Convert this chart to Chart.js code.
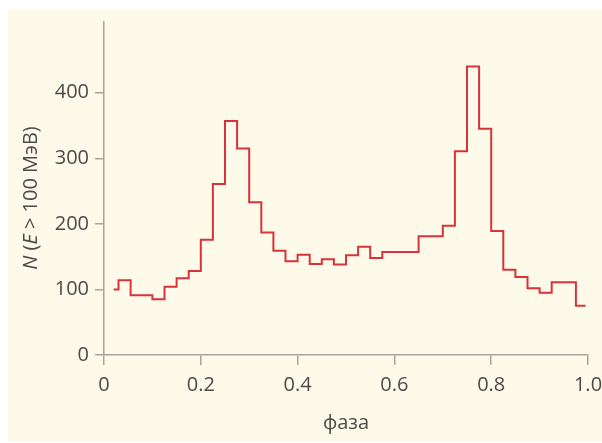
<!DOCTYPE html>
<html lang="ru">
<head>
<meta charset="UTF-8">
<title>N(E > 100 МэВ) vs фаза</title>
<script src="https://cdn.jsdelivr.net/npm/chart.js"></script>
<style>
    html, body {
        margin: 0;
        padding: 0;
        background: #ffffff;
    }
    #wrap {
        width: 602px;
        height: 443px;
    }
</style>
</head>
<body>
<div id="wrap"><canvas id="pulseChart" width="602" height="443"></canvas></div>
<script>
// phase bin starts (last value = end of last bin)
var phaseEdges = [0.02, 0.03, 0.055, 0.08, 0.10, 0.125, 0.15, 0.175, 0.20, 0.225,
    0.25, 0.275, 0.30, 0.325, 0.35, 0.375, 0.40, 0.425, 0.45, 0.475,
    0.50, 0.525, 0.55, 0.575, 0.60, 0.625, 0.65, 0.675, 0.70, 0.725,
    0.75, 0.775, 0.80, 0.825, 0.85, 0.875, 0.90, 0.925, 0.95, 0.975, 0.995];
// counts per bin, N(E > 100 MeV)
var counts = [100, 114, 91, 91, 85, 104, 117, 128, 176, 261,
    357, 315, 233, 187, 159, 143, 153, 139, 146, 138,
    152, 165, 148, 157, 157, 157, 181, 181, 197, 311,
    440, 345, 189, 130, 119, 102, 95, 111, 111, 75];
var yTicks = [0, 100, 200, 300, 400];
var xTicks = [0, 0.2, 0.4, 0.6, 0.8, 1.0];

var axisColor = '#a6a59c';
var textColor = '#4a4a4a';
var fontFamily = "'Open Sans', sans-serif";

// each point opens a bin; the extra last point closes the final bin
var points = phaseEdges.map(function (x, i) {
    return { x: x, y: counts[Math.min(i, counts.length - 1)] };
});

// cream panel behind the plot
var panelPlugin = {
    id: 'panel',
    beforeDraw: function (chart) {
        var ctx = chart.ctx;
        ctx.save();
        ctx.fillStyle = '#fefae9';
        ctx.fillRect(8, 10, 594, 432);
        ctx.restore();
    }
};

// y title with italic N and E
var yTitlePlugin = {
    id: 'yTitle',
    afterDraw: function (chart) {
        var ctx = chart.ctx;
        var parts = [
            { t: 'N', it: true },
            { t: ' (', it: false },
            { t: 'E', it: true },
            { t: ' > 100 МэВ)', it: false }
        ];
        var size = 20;
        var total = 0;
        parts.forEach(function (p) {
            ctx.font = (p.it ? 'italic ' : '') + size + 'px ' + fontFamily;
            p.w = ctx.measureText(p.t).width;
            total += p.w;
        });
        var cy = 198;
        ctx.save();
        ctx.translate(31, cy);
        ctx.rotate(-Math.PI / 2);
        ctx.fillStyle = textColor;
        ctx.textBaseline = 'middle';
        ctx.textAlign = 'left';
        var x = -total / 2;
        parts.forEach(function (p) {
            ctx.font = (p.it ? 'italic ' : '') + size + 'px ' + fontFamily;
            ctx.fillText(p.t, x, 0);
            x += p.w;
        });
        ctx.restore();
    }
};

var ctx = document.getElementById('pulseChart').getContext('2d');
var pulseChart = new Chart(ctx, {
    type: 'line',
    data: {
        datasets: [{
            data: points,
            stepped: 'before',
            borderColor: '#d8333d',
            borderWidth: 2,
            pointRadius: 0,
            fill: false
        }]
    },
    options: {
        responsive: false,
        animation: false,
        layout: {
            padding: { left: 0, top: 22, right: 14, bottom: 0 }
        },
        scales: {
            x: {
                type: 'linear',
                min: 0,
                max: 1,
                afterBuildTicks: function (scale) {
                    scale.ticks = xTicks.map(function (v) { return { value: v }; });
                },
                afterFit: function (scale) {
                    scale.height = 88;
                    scale.paddingLeft = 0;
                    scale.paddingRight = 0;
                },
                ticks: {
                    color: textColor,
                    font: { family: fontFamily, size: 20 },
                    padding: 8,
                    maxRotation: 0,
                    callback: function (v) {
                        return v === 0 ? '0' : v.toFixed(1);
                    }
                },
                grid: {
                    drawOnChartArea: false,
                    drawTicks: true,
                    tickLength: 10,
                    color: axisColor,
                    lineWidth: 1.5
                },
                border: { color: axisColor, width: 1.5 },
                title: {
                    display: true,
                    text: 'фаза',
                    color: textColor,
                    font: { family: fontFamily, size: 20 },
                    padding: { top: 0, bottom: 8 }
                }
            },
            y: {
                min: 0,
                max: 508,
                afterBuildTicks: function (scale) {
                    scale.ticks = yTicks.map(function (v) { return { value: v }; });
                },
                afterFit: function (scale) {
                    scale.width = 104;
                },
                ticks: {
                    color: textColor,
                    font: { family: fontFamily, size: 20 },
                    padding: 6
                },
                grid: {
                    drawOnChartArea: false,
                    drawTicks: true,
                    tickLength: 9,
                    color: axisColor,
                    lineWidth: 1.5
                },
                border: { color: axisColor, width: 1.5 },
                title: { display: false }
            }
        },
        plugins: {
            legend: { display: false },
            tooltip: { enabled: false }
        }
    },
    plugins: [panelPlugin, yTitlePlugin]
});
</script>
</body>
</html>
